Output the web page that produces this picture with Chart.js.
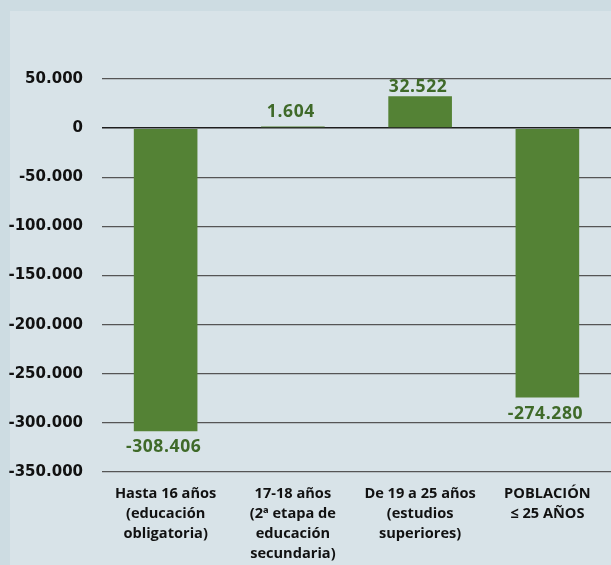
<!DOCTYPE html>
<html>
<head>
<meta charset="utf-8">
<script src="https://cdn.jsdelivr.net/npm/chart.js@4.4.1/dist/chart.umd.min.js"></script>
<style>
  html, body { margin: 0; padding: 0; background: #cddce2; overflow: hidden; }
  #panel { position: absolute; left: 10px; top: 11px; right: 0; bottom: 0; background: #d8e3e8; }
  #chartCanvas { position: absolute; left: 0; top: 0; }
</style>
</head>
<body>
<div id="panel"></div>
<canvas id="chartCanvas" width="611" height="565"></canvas>
<script>
/* Data */
const categories = [
  ['Hasta 16 años', '(educación', 'obligatoria)'],
  ['17-18 años', '(2ª etapa de', 'educación', 'secundaria)'],
  ['De 19 a 25 años', '(estudios', 'superiores)'],
  ['POBLACIÓN', '≤ 25 AÑOS']
];
const values = [-308406, 1604, 32522, -274280];
const yMin = -350000, yMax = 50000, yStep = 50000;

/* Helpers */
const fmt = v => (v < 0 ? '-' : '') + String(Math.abs(v)).replace(/\B(?=(\d{3})+(?!\d))/g, '.');
const BAR = '#548235';
const LABEL = '#3f6a29';

/* Value labels under / over each bar, kept inside the plot area like Excel does */
const valueLabels = {
  id: 'valueLabels',
  afterDatasetsDraw(chart) {
    const { ctx, chartArea } = chart;
    const meta = chart.getDatasetMeta(0);
    ctx.save();
    ctx.font = 'bold 17.5px "Open Sans"';
    ctx.letterSpacing = '0.6px';
    ctx.fillStyle = LABEL;
    ctx.textAlign = 'center';
    ctx.textBaseline = 'middle';
    meta.data.forEach((bar, i) => {
      const v = values[i];
      const y = v < 0 ? bar.y + 16 : Math.max(bar.y - 15, chartArea.top + 8);
      ctx.fillText(fmt(v), bar.x - 2, y);
    });
    ctx.restore();
  }
};

new Chart(document.getElementById('chartCanvas').getContext('2d'), {
  type: 'bar',
  data: {
    labels: categories,
    datasets: [{
      data: values,
      backgroundColor: BAR,
      borderWidth: 0,
      barPercentage: 0.5,
      categoryPercentage: 1
    }]
  },
  options: {
    responsive: false,
    animation: false,
    layout: { padding: { top: 79, left: 0, right: 0, bottom: 0 } },
    plugins: { legend: { display: false }, tooltip: { enabled: false } },
    scales: {
      x: {
        grid: { display: false },
        border: { display: false },
        ticks: {
          color: '#111',
          font: { family: 'Open Sans', weight: 'bold', size: 14.6, lineHeight: '20px' },
          padding: 4,
          maxRotation: 0,
          autoSkip: false
        },
        afterFit(scale) { scale.height = 93; }
      },
      y: {
        min: yMin,
        max: yMax,
        border: { display: false },
        grid: {
          drawTicks: false,
          color: ctx => ctx.tick && ctx.tick.value === 0 ? '#1e1e1e' : '#555555',
          lineWidth: ctx => ctx.tick && ctx.tick.value === 0 ? 1.6 : 1.2
        },
        ticks: {
          stepSize: yStep,
          color: '#111',
          padding: 19,
          font: { family: 'DejaVu Sans', weight: 'bold', size: 15 },
          callback: v => fmt(v)
        },
        afterFit(scale) { scale.width = 102; }
      }
    }
  },
  plugins: [valueLabels]
});
</script>
</body>
</html>
